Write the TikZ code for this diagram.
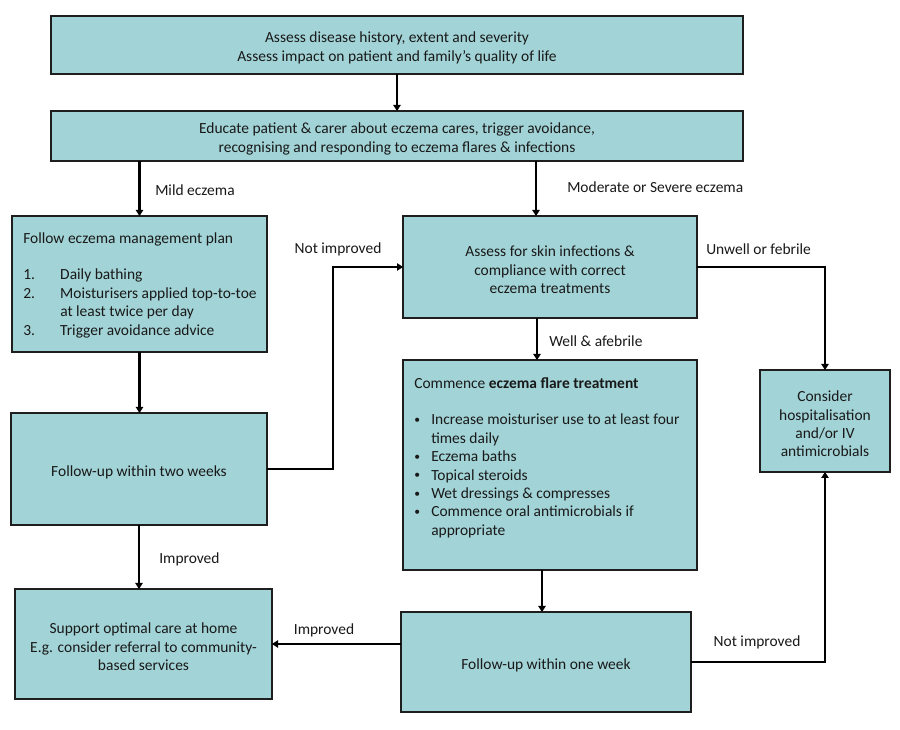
\documentclass[tikz,border=0pt]{standalone}
\usepackage{fontspec}
\setmainfont{Carlito}
\usetikzlibrary{arrows.meta}
\definecolor{boxfill}{RGB}{162,211,214}
\definecolor{boxline}{RGB}{30,30,30}
\newcommand{\fsz}{\fontsize{11.6pt}{13.8pt}\selectfont}
\newcommand{\bul}{\makebox[12.75pt][l]{\raisebox{0.15ex}{\scalebox{0.75}{•}}}}
\tikzset{
  box/.style={draw=boxline, line width=1.1pt, fill=boxfill, inner sep=0pt, outer sep=0pt},
  btxt/.style={inner sep=0pt, align=center, font=\fsz, text=black!90, yshift=-2.25pt},
  txt/.style={inner sep=0pt, align=left, font=\fsz, text=black!90},
  lbl/.style={inner sep=0pt, font=\fsz, text=black!90, yshift=-1.5pt},
  arr/.style={line width=2pt, -{Triangle[width=5.5pt,length=4.5pt]}},
}
\begin{document}
\begin{tikzpicture}[x=0.75pt,y=-0.75pt]
\useasboundingbox (0,0) rectangle (900,730);
\fill[white] (0,0) rectangle (900,730);

\node[box, minimum width=519pt, minimum height=43.5pt] (top) at (397,45) {};
\node[btxt] (toptxt) at (top) {Assess disease history, extent and severity\\Assess impact on patient and family’s quality of life};
\node[box, minimum width=519pt, minimum height=37.5pt] (edu) at (397,136) {};
\node[btxt] (edutxt) at (edu) {Educate patient \& carer about eczema cares, trigger avoidance,\\recognising and responding to eczema flares \& infections};
\node[box, minimum width=191.25pt, minimum height=102pt] (plan) at (139.5,284) {};
\node[txt, anchor=north west] (plantxt) at (23,232)
  {Follow eczema management plan\\[13.8pt]
   \makebox[27.75pt][l]{1.}Daily bathing\\
   \makebox[27.75pt][l]{2.}Moisturisers applied top-to-toe\\
   \hspace*{27.75pt}at least twice per day\\
   \makebox[27.75pt][l]{3.}Trigger avoidance advice};
\node[box, minimum width=220.5pt, minimum height=76.5pt] (assess) at (550,267) {};
\node[btxt] (assesstxt) at (assess) {Assess for skin infections \&\\compliance with correct\\eczema treatments};
\node[box, minimum width=220.5pt, minimum height=157.5pt] (comm) at (550,465) {};
\node[txt, anchor=north west] (commtxt) at (414,377)
  {Commence \textbf{eczema flare treatment}\\[13.8pt]
   \bul Increase moisturiser use to at least four\\
   \hspace*{12.75pt}times daily\\
   \bul Eczema baths\\
   \bul Topical steroids\\
   \bul Wet dressings \& compresses\\
   \bul Commence oral antimicrobials if\\
   \hspace*{12.75pt}appropriate};
\node[box, minimum width=97.5pt, minimum height=76.5pt] (hosp) at (825,421) {};
\node[btxt] (hosptxt) at (hosp) {Consider\\hospitalisation\\and/or IV\\antimicrobials};
\node[box, minimum width=192pt, minimum height=84pt] (fu2) at (139,469) {};
\node[btxt] (fu2txt) at (fu2) {Follow-up within two weeks};
\node[box, minimum width=192.75pt, minimum height=82.5pt] (supp) at (143.5,644) {};
\node[btxt] (supptxt) at (supp) {Support optimal care at home\\E.g. consider referral to community-\\based services};
\node[box, minimum width=217.5pt, minimum height=75pt] (fu1) at (546,662) {};
\node[btxt] (fu1txt) at (fu1) {Follow-up within one week};

% connectors
\draw[arr] (top) -- (edu);
\draw[arr] (edu.south -| plan.north) -- (plan.north);
\coordinate (asin) at ([xshift=-10.5pt]assess.north);
\draw[arr] (edu.south -| asin) -- (asin);
\draw[arr] (plan.south) -- (plan.south |- fu2.north);
\draw[arr] (fu2.east) -- ++(66,0) |- (assess.west);
\coordinate (asout) at ([xshift=-9.75pt]assess.south);
\draw[arr] (asout) -- (asout |- comm.north);
\draw[arr] (assess.east) -| (hosp.north);
\draw[arr] (fu2.south) -- (fu2.south |- supp.north);
\coordinate (cmout) at ([xshift=-6pt]comm.south);
\draw[arr] (cmout) -- (cmout |- fu1.north);
\coordinate (f1w) at ([yshift=13.5pt]fu1.west);
\draw[arr] (f1w) -- (supp.east |- f1w);
\draw[arr] (fu1.east) -| (hosp.south);

% labels
\node[lbl, anchor=west] (lmild) at (155,188) {Mild eczema};
\node[lbl, anchor=west] (lmod) at (567,185) {Moderate or Severe eczema};
\node[lbl] (lni1) at (338,247) {Not improved};
\node[lbl, anchor=west] (lwell) at (549,339) {Well \& afebrile};
\node[lbl, anchor=west] (lunw) at (706,247) {Unwell or febrile};
\node[lbl, anchor=west] (limp1) at (159,557) {Improved};
\node[lbl] (limp2) at (324,628) {Improved};
\node[lbl] (lni2) at (757,640) {Not improved};
\end{tikzpicture}
\end{document}
